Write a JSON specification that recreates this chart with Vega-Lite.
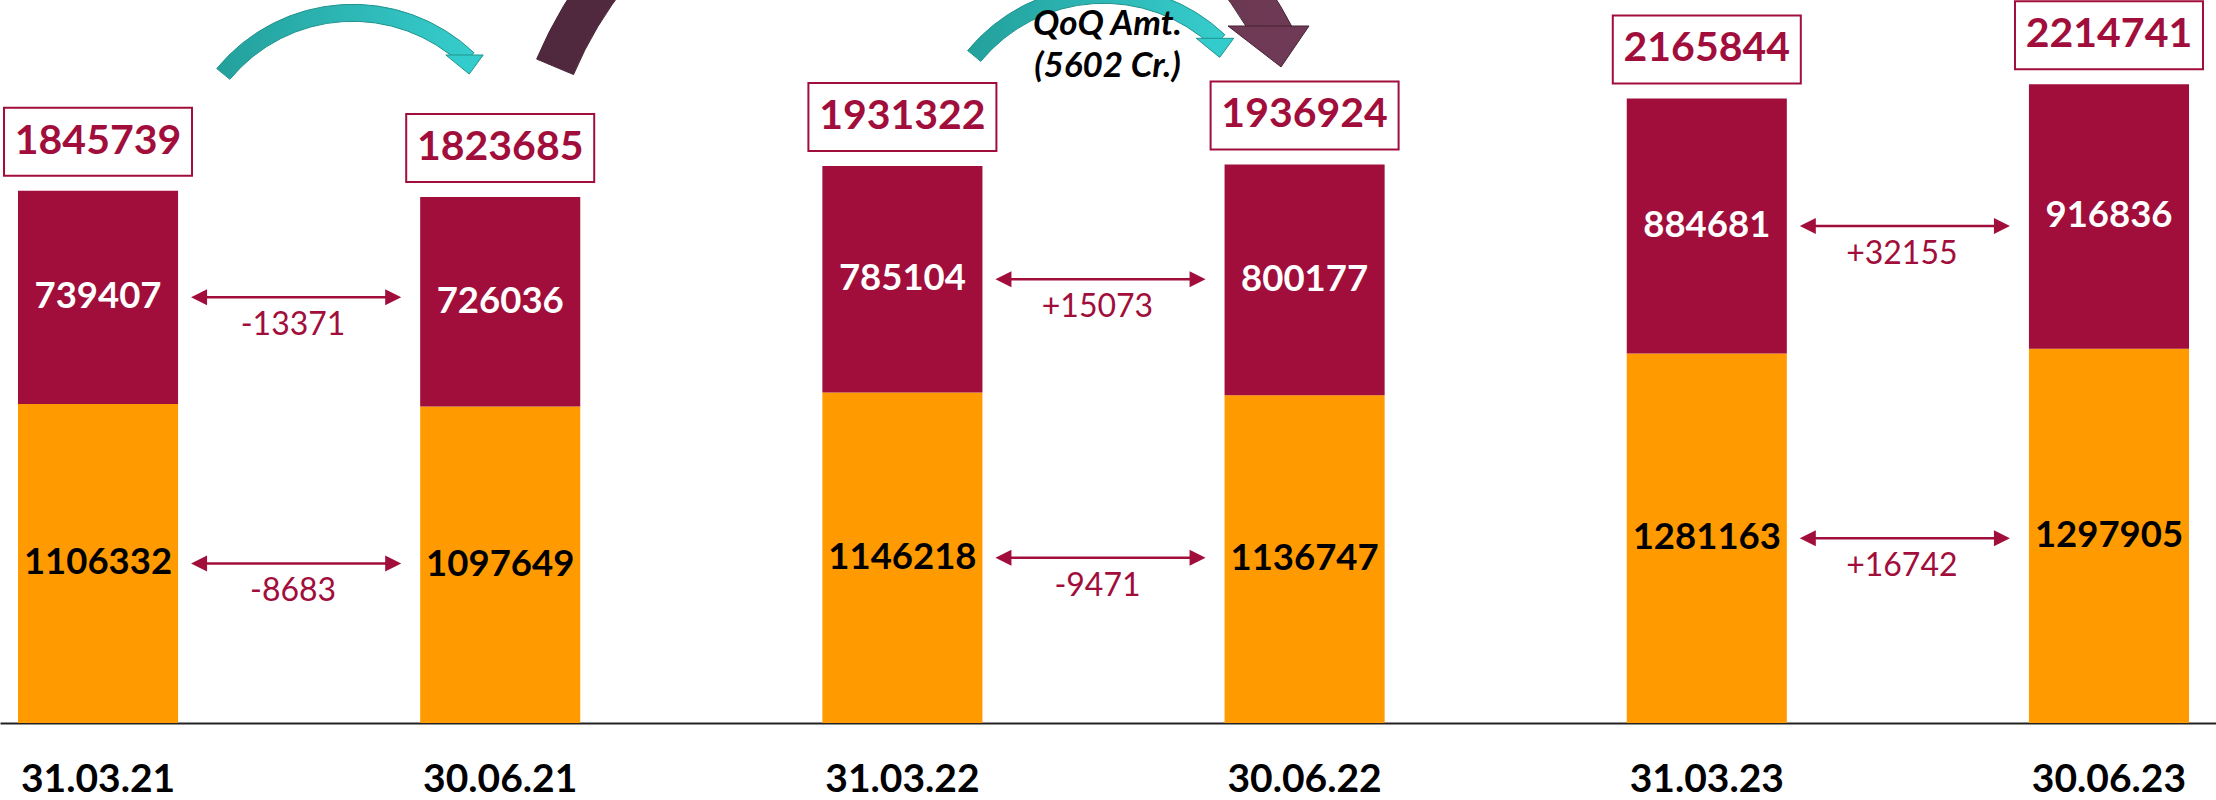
{
  "$schema": "https://vega.github.io/schema/vega-lite/v6.json",
  "width": 2216,
  "height": 723,
  "autosize": {"type": "none"},
  "padding": {"left": 0, "top": 0, "right": 0, "bottom": 77},
  "background": "#FFFFFF",
  "config": {
    "view": {"stroke": null},
    "font": "Lato",
    "axisX": {"labelFont": "Lato", "labelFontWeight": "bold", "labelFontSize": 39, "labelColor": "#000000", "labelAngle": 0, "ticks": false, "tickSize": 0, "labelPadding": 56, "labelBaseline": "middle", "domainColor": "#222222", "domainWidth": 2, "grid": false}
  },
  "data": {
    "values": [
      {"date": "31.03.21", "seg": "Deposits", "ord": 1, "value": 1106332, "role": "from", "next": "30.06.21", "change": "-8683"},
      {"date": "31.03.21", "seg": "Advances", "ord": 2, "value": 739407, "role": "from", "next": "30.06.21", "change": "-13371"},
      {"date": "30.06.21", "seg": "Deposits", "ord": 1, "value": 1097649, "role": "to"},
      {"date": "30.06.21", "seg": "Advances", "ord": 2, "value": 726036, "role": "to"},
      {"date": "31.03.22", "seg": "Deposits", "ord": 1, "value": 1146218, "role": "from", "next": "30.06.22", "change": "-9471"},
      {"date": "31.03.22", "seg": "Advances", "ord": 2, "value": 785104, "role": "from", "next": "30.06.22", "change": "+15073"},
      {"date": "30.06.22", "seg": "Deposits", "ord": 1, "value": 1136747, "role": "to"},
      {"date": "30.06.22", "seg": "Advances", "ord": 2, "value": 800177, "role": "to"},
      {"date": "31.03.23", "seg": "Deposits", "ord": 1, "value": 1281163, "role": "from", "next": "30.06.23", "change": "+16742"},
      {"date": "31.03.23", "seg": "Advances", "ord": 2, "value": 884681, "role": "from", "next": "30.06.23", "change": "+32155"},
      {"date": "30.06.23", "seg": "Deposits", "ord": 1, "value": 1297905, "role": "to"},
      {"date": "30.06.23", "seg": "Advances", "ord": 2, "value": 916836, "role": "to"}
    ]
  },
  "layer": [
    {
      "transform": [{"filter": "datum.date === '31.03.22' && datum.seg === 'Advances'"}],
      "mark": {"type": "arc", "theta": -1.173, "theta2": 1.10, "radius": 418, "radius2": 378, "xOffset": 19.6,
        "fill": {"gradient": "linear", "x1": 0, "y1": 0, "x2": 1, "y2": 0, "stops": [{"offset": 0, "color": "#4F283D"}, {"offset": 1, "color": "#6E3A55"}]},
        "stroke": "#4A2438", "strokeWidth": 1},
      "encoding": {
        "x": {"field": "date", "type": "nominal", "title": null},
        "y": {"datum": 1740685, "type": "quantitative", "axis": null}
      }
    },
    {
      "transform": [{"filter": "datum.date === '30.06.22' && datum.seg === 'Advances'"}],
      "mark": {"type": "point", "shape": "M -1 0 L 1 0 L 0.31 1.01 Z", "size": 6561, "filled": true, "opacity": 1, "fill": "#6E3A55", "stroke": "#4A2438", "strokeWidth": 1, "xOffset": -36.1},
      "encoding": {
        "x": {"field": "date", "type": "nominal", "title": null},
        "y": {"datum": 2416848, "type": "quantitative", "axis": null}
      }
    },
    {
      "transform": [{"filter": "datum.date === '30.06.21' && datum.seg === 'Advances'"}],
      "mark": {"type": "arc", "theta": -0.883, "theta2": 0.76, "radius": 176, "radius2": 159, "xOffset": -147.5,
        "fill": {"gradient": "linear", "x1": 0, "y1": 0, "x2": 1, "y2": 0, "stops": [{"offset": 0, "color": "#23A09C"}, {"offset": 1, "color": "#36CDCD"}]},
        "stroke": "#21948F", "strokeWidth": 1},
      "encoding": {
        "x": {"field": "date", "type": "nominal", "title": null},
        "y": {"datum": 1881822, "type": "quantitative", "axis": null}
      }
    },
    {
      "transform": [{"filter": "datum.date === '30.06.21' && datum.seg === 'Advances'"}],
      "mark": {"type": "point", "shape": "M -1 0 L 1 0 L 0.25 1.02 Z", "size": 1399, "filled": true, "opacity": 1, "fill": "#33CCCC", "stroke": "#21948F", "strokeWidth": 1, "xOffset": -35.7},
      "encoding": {
        "x": {"field": "date", "type": "nominal", "title": null},
        "y": {"datum": 2316290, "type": "quantitative", "axis": null}
      }
    },
    {
      "transform": [{"filter": "datum.date === '30.06.22' && datum.seg === 'Advances'"}],
      "mark": {"type": "arc", "theta": -0.883, "theta2": 0.76, "radius": 176, "radius2": 159, "xOffset": -201,
        "fill": {"gradient": "linear", "x1": 0, "y1": 0, "x2": 1, "y2": 0, "stops": [{"offset": 0, "color": "#23A09C"}, {"offset": 1, "color": "#36CDCD"}]},
        "stroke": "#21948F", "strokeWidth": 1},
      "encoding": {
        "x": {"field": "date", "type": "nominal", "title": null},
        "y": {"datum": 1944227, "type": "quantitative", "axis": null}
      }
    },
    {
      "transform": [{"filter": "datum.date === '30.06.22' && datum.seg === 'Advances'"}],
      "mark": {"type": "point", "shape": "M -1 0 L 1 0 L 0.25 1.02 Z", "size": 1399, "filled": true, "opacity": 1, "fill": "#33CCCC", "stroke": "#21948F", "strokeWidth": 1, "xOffset": -89.6},
      "encoding": {
        "x": {"field": "date", "type": "nominal", "title": null},
        "y": {"datum": 2374197, "type": "quantitative", "axis": null}
      }
    },
    {
      "transform": [{"filter": "datum.date === '31.03.22' && datum.seg === 'Advances'"}],
      "mark": {"type": "text", "text": ["QoQ Amt.", "(5602 Cr.)"], "font": "Lato", "fontStyle": "italic", "fontWeight": "bold", "fontSize": 35, "lineHeight": 42, "color": "#000000", "baseline": "middle", "align": "center", "xOffset": 125},
      "encoding": {
        "x": {"field": "date", "type": "nominal", "bandPosition": 1, "title": null},
        "y": {"datum": 2423783, "type": "quantitative", "axis": null}
      }
    },
    {
      "mark": {"type": "bar"},
      "encoding": {
        "x": {"field": "date", "type": "nominal", "title": null,
          "scale": {"domain": ["31.03.21", "30.06.21", "31.03.22", "30.06.22", "31.03.23", "30.06.23"], "paddingInner": 0.602, "paddingOuter": 0.0559, "align": 0.4}},
        "y": {"field": "value", "type": "quantitative", "stack": "zero", "scale": {"domain": [0, 2507000], "nice": false, "zero": true}, "axis": null},
        "color": {"field": "seg", "type": "nominal", "scale": {"domain": ["Deposits", "Advances"], "range": ["#FF9A00", "#A10E3B"]}, "legend": null},
        "order": {"field": "ord", "type": "quantitative"}
      }
    },
    {
      "mark": {"type": "text", "font": "Lato", "fontWeight": "bold", "fontSize": 36.5, "baseline": "middle", "align": "center"},
      "encoding": {
        "x": {"field": "date", "type": "nominal", "title": null},
        "y": {"field": "value", "type": "quantitative", "stack": "zero", "bandPosition": 0.5, "axis": null},
        "order": {"field": "ord", "type": "quantitative"},
        "text": {"field": "value", "type": "quantitative", "format": "d"},
        "color": {"condition": {"test": "datum.seg === 'Advances'", "value": "#FFFFFF"}, "value": "#000000"}
      }
    },
    {
      "transform": [{"filter": "datum.role === 'from'"}],
      "mark": {"type": "rule", "color": "#A10E3B", "strokeWidth": 2.5, "xOffset": 22, "x2Offset": -28},
      "encoding": {
        "x": {"field": "date", "type": "nominal", "bandPosition": 1, "title": null},
        "x2": {"field": "next", "bandPosition": 0},
        "y": {"field": "value", "type": "quantitative", "stack": "zero", "bandPosition": 0.5, "axis": null},
        "order": {"field": "ord", "type": "quantitative"}
      }
    },
    {
      "transform": [{"filter": "datum.role === 'from'"}],
      "mark": {"type": "point", "shape": "M 1 -1 L -1 0 L 1 1 Z", "size": 256, "filled": true, "opacity": 1, "color": "#A10E3B", "xOffset": 21},
      "encoding": {
        "x": {"field": "date", "type": "nominal", "bandPosition": 1, "title": null},
        "y": {"field": "value", "type": "quantitative", "stack": "zero", "bandPosition": 0.5, "axis": null},
        "order": {"field": "ord", "type": "quantitative"}
      }
    },
    {
      "transform": [{"filter": "datum.role === 'from'"}],
      "mark": {"type": "point", "shape": "M -1 -1 L 1 0 L -1 1 Z", "size": 256, "filled": true, "opacity": 1, "color": "#A10E3B", "xOffset": -27},
      "encoding": {
        "x": {"field": "next", "type": "nominal", "bandPosition": 0, "title": null},
        "y": {"field": "value", "type": "quantitative", "stack": "zero", "bandPosition": 0.5, "axis": null},
        "order": {"field": "ord", "type": "quantitative"}
      }
    },
    {
      "transform": [{"filter": "datum.role === 'from'"}],
      "mark": {"type": "text", "font": "Lato", "fontSize": 32, "color": "#A10E3B", "baseline": "middle", "align": "center", "xOffset": 115, "dy": 28},
      "encoding": {
        "x": {"field": "date", "type": "nominal", "bandPosition": 1, "title": null},
        "y": {"field": "value", "type": "quantitative", "stack": "zero", "bandPosition": 0.5, "axis": null},
        "order": {"field": "ord", "type": "quantitative"},
        "text": {"field": "change", "type": "nominal"}
      }
    },
    {
      "transform": [{"aggregate": [{"op": "sum", "field": "value", "as": "total"}], "groupby": ["date"]}],
      "mark": {"type": "bar", "width": 188, "fill": "#FFFFFF", "stroke": "#A10E3B", "strokeWidth": 2, "yOffset": -83, "y2Offset": -15},
      "encoding": {
        "x": {"field": "date", "type": "nominal", "title": null},
        "y": {"field": "total", "type": "quantitative", "axis": null},
        "y2": {"field": "total"}
      }
    },
    {
      "transform": [{"aggregate": [{"op": "sum", "field": "value", "as": "total"}], "groupby": ["date"]}],
      "mark": {"type": "text", "font": "Lato", "fontWeight": "bold", "fontSize": 41, "color": "#A10E3B", "baseline": "middle", "align": "center", "dy": -49},
      "encoding": {
        "x": {"field": "date", "type": "nominal", "title": null},
        "y": {"field": "total", "type": "quantitative", "axis": null},
        "text": {"field": "total", "type": "quantitative", "format": "d"}
      }
    }
  ]
}
